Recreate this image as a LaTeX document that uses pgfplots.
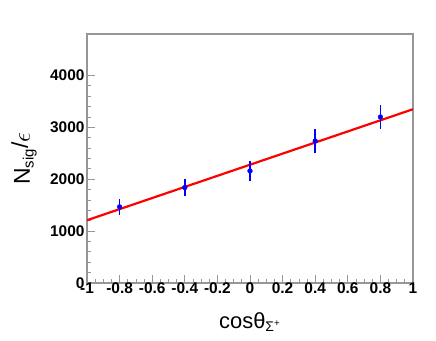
\documentclass[border=0pt]{standalone}
\usepackage{pgfplots}
\pgfplotsset{compat=1.18}
\usepackage{fontspec}
\setmainfont{Liberation Sans}
\definecolor{framegray}{RGB}{150,150,150}

\begin{document}
\begin{tikzpicture}
\begin{axis}[
  name=ax,
  scale only axis,
  width=326bp, height=249bp,
  xmin=-1, xmax=1, ymin=0, ymax=4800,
  xtick={-1,-0.8,...,1.01},
  ytick={0,1000,2000,3000,4000},
  minor x tick num=3,
  minor y tick num=4,
  axis line style={framegray, line width=1.2pt},
  tick style={framegray, line width=0.8pt},
  major tick length=8bp, minor tick length=4bp,
  xtick pos=bottom, ytick pos=left,
  tick align=inside,
  /pgf/number format/assume math mode=true,
  /pgf/number format/1000 sep={},
  ticklabel style={font=\fontsize{15.5}{15.5}\selectfont\bfseries},
  xticklabel style={yshift=4bp},
  yticklabel style={xshift=1bp},
  xticklabels={-1,-0.8,-0.6,-0.4,-0.2,0,0.2,0.4,0.6,0.8,1},
  xlabel={cosθ\textsubscript{\fontsize{14}{14}\selectfont Σ\textsuperscript{+}}},
  ylabel={N\textsubscript{\fontsize{15}{15}\selectfont sig}\raisebox{2bp}{/}$\epsilon$},
  every axis x label/.style={at={(rel axis cs:0.5,0)}, anchor=base, yshift=-45bp,
    font=\fontsize{22}{22}\selectfont},
  every axis y label/.style={at={(rel axis cs:0,0.5)}, anchor=center, rotate=90, yshift=63bp,
    font=\fontsize{23}{23}\selectfont},
]
\addplot[red, line width=2.2pt, no markers] coordinates {(-1,1210) (1,3350)};
\addplot[blue, only marks, mark=*, mark size=2.4pt,
  error bars/.cd, y dir=both, y explicit,
  error bar style={line width=1.5pt, blue}, error mark=none]
  coordinates {
    (-0.8,1467) +- (0,160)
    (-0.4,1840) +- (0,170)
    (0,2160) +- (0,200)
    (0.4,2737) +- (0,230)
    (0.8,3200) +- (0,230)
  };
\end{axis}
\path ([shift={(-87bp,-58bp)}]ax.south west) rectangle ([shift={(23bp,34bp)}]ax.north east);
\end{tikzpicture}
\end{document}
